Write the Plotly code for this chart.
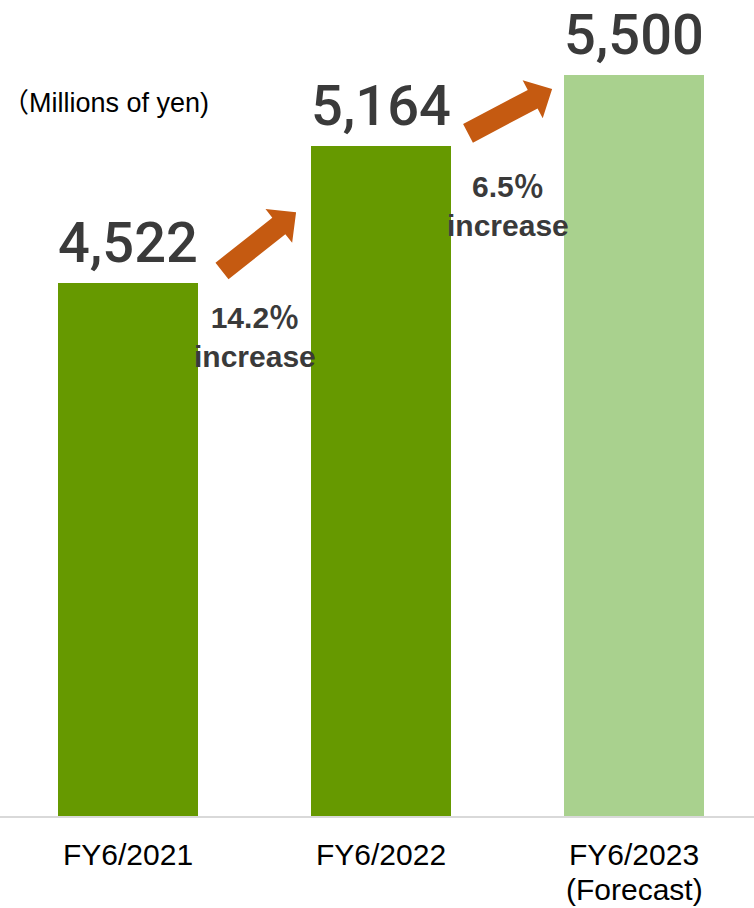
import math
import plotly.graph_objects as go

# ---- data ----
categories = ["FY6/2021", "FY6/2022", "FY6/2023<br>(Forecast)"]
values = [4522, 5164, 5500]
value_labels = ["4,522", "5,164", "5,500"]
growth_labels = ["14.2％<br>increase", "6.5％<br>increase"]
unit_label = "（Millions of yen)"

# ---- styles / layout ----
bar_colors = ["#669900", "#669900", "#a9d18e"]
W, H = 754, 908
ML, MR, MT, MB = 0, 0, 0, 92
PW, PH = W - ML - MR, H - MT - MB
XR = [-0.506, 2.474]
YR = [2016, 5852]
BARW = 0.553
TEXT = "#3a3a3a"
ARROW_COLOR = "#c55a11"
# arrow offsets (px): tail relative to (right edge, top) of bar i, tip relative to (left edge, top) of bar i+1
ARROWS = [dict(tail=(24, -12), tip=(-15, 66)), dict(tail=(17, -13), tip=(-12, 14))]
GROWTH_SHIFT = [-54, -60]


def px(xv):
    return ML + (xv - XR[0]) / (XR[1] - XR[0]) * PW


def py(yv):
    return MT + PH - (yv - YR[0]) / (YR[1] - YR[0]) * PH


def to_paper(x, y):
    return ((x - ML) / PW, 1 - (y - MT) / PH)


def arrow_path(tx, ty, hx, hy, sw=10.5, hw=21.5, hl=22):
    dx, dy = hx - tx, hy - ty
    L = math.hypot(dx, dy)
    ux, uy = dx / L, dy / L
    nx, ny = -uy, ux
    jx, jy = hx - ux * hl, hy - uy * hl
    pts = [
        (tx + nx * sw, ty + ny * sw),
        (jx + nx * sw, jy + ny * sw),
        (jx + nx * hw, jy + ny * hw),
        (hx, hy),
        (jx - nx * hw, jy - ny * hw),
        (jx - nx * sw, jy - ny * sw),
        (tx - nx * sw, ty - ny * sw),
    ]
    pp = [to_paper(x, y) for x, y in pts]
    return "M " + " L ".join(f"{x:.5f},{y:.5f}" for x, y in pp) + " Z"


fig = go.Figure()
fig.add_trace(go.Bar(
    x=list(range(len(categories))), y=values, width=BARW,
    marker=dict(color=bar_colors, line=dict(width=0)),
    hoverinfo="skip", showlegend=False,
))

annotations = []
# value labels above bars
for i, (v, lab) in enumerate(zip(values, value_labels)):
    annotations.append(dict(
        x=i, y=v, xref="x", yref="y", text=lab, showarrow=False,
        xanchor="center", yanchor="middle", yshift=40,
        font=dict(family="Roboto", size=56, color=TEXT, weight=500),
    ))
# growth labels between bars
for i, lab in enumerate(growth_labels):
    annotations.append(dict(
        x=i + 0.5, y=values[i], xref="x", yref="y", text=lab, showarrow=False,
        xanchor="center", yanchor="middle", yshift=GROWTH_SHIFT[i],
        font=dict(family="Liberation Sans, Noto Sans CJK JP", size=30, color=TEXT, weight="bold"),
    ))
# category labels
for i, cat in enumerate(categories):
    for j, line in enumerate(cat.split("<br>")):
        annotations.append(dict(
            x=i, y=0, xref="x", yref="paper", text=line, showarrow=False,
            xanchor="center", yanchor="middle", yshift=-38 - 35 * j,
            font=dict(family="Liberation Sans", size=30, color="#000000"),
        ))
# unit label
ux, uy = to_paper(0, 103)
annotations.append(dict(
    x=ux, y=uy, xref="paper", yref="paper", text=unit_label, showarrow=False,
    xanchor="left", yanchor="middle",
    font=dict(family="Liberation Sans, Noto Sans CJK JP", size=27, color="#000000"),
))

shapes = []
for i, a in enumerate(ARROWS):
    tx = px(i + BARW / 2) + a["tail"][0]
    ty = py(values[i]) + a["tail"][1]
    hx = px(i + 1 - BARW / 2) + a["tip"][0]
    hy = py(values[i + 1]) + a["tip"][1]
    shapes.append(dict(
        type="path", xref="paper", yref="paper", path=arrow_path(tx, ty, hx, hy),
        fillcolor=ARROW_COLOR, line=dict(width=0), layer="above",
    ))

fig.update_layout(
    width=W, height=H,
    margin=dict(l=ML, r=MR, t=MT, b=MB, pad=0),
    paper_bgcolor="white", plot_bgcolor="white",
    bargap=0,
    xaxis=dict(range=XR, showticklabels=False, ticks="", showgrid=False, zeroline=False,
               showline=True, linecolor="#d9d9d9", linewidth=1.5, fixedrange=True),
    yaxis=dict(range=YR, visible=False, showgrid=False, zeroline=False, fixedrange=True),
    annotations=annotations,
    shapes=shapes,
)

fig.write_html("out.html", config={"displayModeBar": False})
